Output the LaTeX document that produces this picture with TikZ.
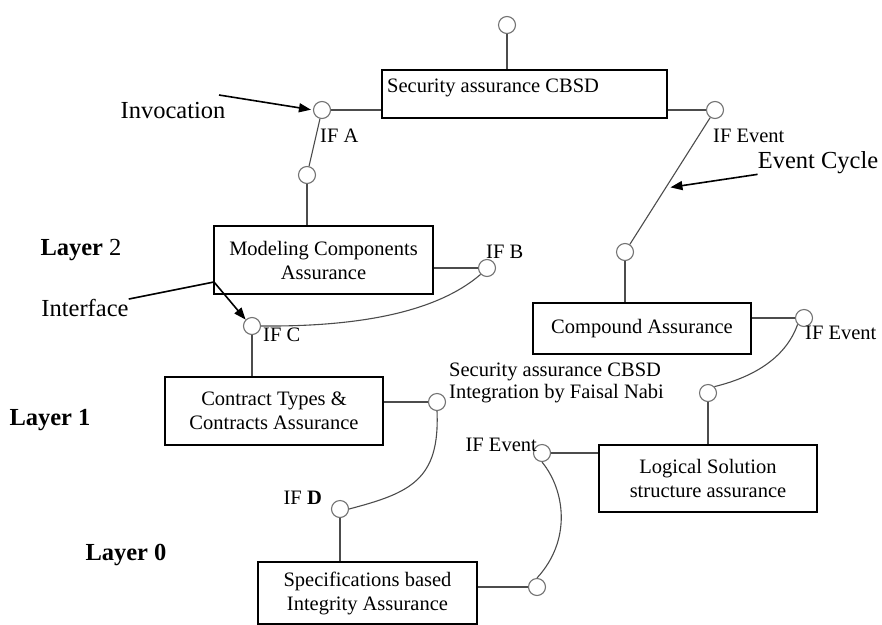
\documentclass[tikz,border=0pt]{standalone}
\usepackage{fontspec}
\setmainfont{Liberation Serif}
\usetikzlibrary{positioning, calc, arrows.meta}

\newcommand{\boxfont}{\fontsize{20.5}{24}\selectfont}
\newcommand{\notefont}{\fontsize{24.5}{28}\selectfont}

\begin{document}
\begin{tikzpicture}[x=1pt, y=-1pt,
    box/.style={draw, line width=1.4pt, align=center, inner sep=0pt, font=\boxfont},
    port/.style={circle, draw=black!55, line width=1.1pt, minimum size=17pt, inner sep=0pt, fill=white},
    wire/.style={draw=black!70, line width=1.1pt},
    txt/.style={inner sep=0pt, font=\boxfont},
    note/.style={inner sep=0pt, font=\notefont},
    annot/.style={line width=1.6pt, -{Triangle[length=12pt, width=9pt]}}]

\useasboundingbox (0,0) rectangle (882,624);

% components
\node[box, minimum width=285pt, minimum height=48pt] (sec) at (524.5,94) {};
\node[txt, anchor=west] (sectxt) at (387,88) {Security assurance CBSD};
\node[box, minimum width=219pt, minimum height=68pt] (mod) at (323.5,260) {Modeling Components\\Assurance};
\node[box, minimum width=218pt, minimum height=51pt] (comp) at (642,328.5) {Compound Assurance};
\node[box, minimum width=218pt, minimum height=68pt] (ctr) at (274,411) {Contract Types \&\\Contracts Assurance};
\node[box, minimum width=218pt, minimum height=67pt] (logic) at (708,478.5) {Logical Solution\\structure assurance};
\node[box, minimum width=219pt, minimum height=62pt] (spec) at (367.5,593) {Specifications based\\Integrity Assurance};

% interfaces
\foreach \n/\x/\y in {ctop/507/25, ifa/322/110, ifa2/307/175, ifev1/715/110, ev2/625/252,
    ifb/487/268, ifc/252/326, ifev2/804/318, lg/708/393, integ/437/402,
    ifev3/542/453, ifd/340/509, spc/537/587}
  \node[port] (\n) at (\x,\y) {};

\draw[wire] (ctop) -- (ctop |- sec.north);
\draw[wire] (ifa) -- (ifa -| sec.west);
\draw[wire] (ifev1) -- (ifev1 -| sec.east);
\draw[wire] (ifa) -- (ifa2);
\draw[wire] (ifa2) -- (ifa2 |- mod.north);
\draw[wire] (ifb) -- (ifb -| mod.east);
\draw[wire] (ifc.east) .. controls (380,327) and (445,305) .. (ifb.south west);
\draw[wire] (ifc) -- (ifc |- ctr.north);
\draw[wire] (integ) -- (integ -| ctr.east);
\draw[wire] (integ.south) .. controls (440,480) and (410,493) .. (ifd.east);
\draw[wire] (ifd) -- (ifd |- spec.north);
\draw[wire] (spc) -- (spc -| spec.east);
\draw[wire] (spc.north) .. controls (572,540) and (565,490) .. (ifev3.south);
\draw[wire] (ifev3) -- (ifev3 -| logic.west);
\draw[wire] (lg) -- (lg |- logic.north);
\draw[wire] (lg.north east) .. controls (750,378) and (785,360) .. (ifev2.south west);
\draw[wire] (ifev2) -- (ifev2 -| comp.east);
\draw[wire] (ev2) -- (ev2 |- comp.north);
\draw[wire] (ifev1) -- (ev2);

% interface labels
\node[txt, anchor=west] (lifa) at (320,136) {IF A};
\node[txt, anchor=west] (lifev1) at (713,136) {IF Event};
\node[txt, anchor=west] (lifb) at (486,252) {IF B};
\node[txt, anchor=west] (lifc) at (263,335) {IF C};
\node[txt, anchor=west] (lifev2) at (805,333) {IF Event};
\node[txt, anchor=west, align=left, font=\fontsize{20.5}{22}\selectfont] (lint) at (449,383)
  {Security assurance CBSD\\Integration by Faisal Nabi};
\node[txt, anchor=east] (lifev3) at (537,445) {IF Event};
\node[txt, anchor=east] (lifd) at (322,498) {IF \textbf{D}};

% notes and layers
\node[note] (inv) at (173,111) {Invocation};
\node[note] (intf) at (85,308) {Interface};
\node[note] (evc) at (818,163) {Event Cycle};
\node[note] (l2) at (81,250) {\textbf{Layer} 2};
\node[note] (l1) at (50,420) {\textbf{Layer 1}};
\node[note] (l0) at (126,555) {\textbf{Layer 0}};

\coordinate (invs) at (219,95);
\coordinate (ibend) at (214,282);
\draw[annot, shorten >=2pt] (invs) -- (ifa.west);
\draw[annot, shorten >=5pt] (evc.south west) -- ($(ifev1)!0.55!(ev2)$);
\draw[annot] (intf.north east) -- (ibend) -- (ifc.north west);
\end{tikzpicture}
\end{document}
